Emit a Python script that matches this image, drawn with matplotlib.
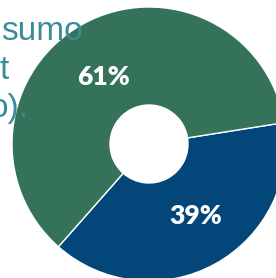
import matplotlib.pyplot as plt

# slice values (blue first, going clockwise from the right)
labels = ['39%', '61%']
values = [39, 61]
colors = ['#02467A', '#35725A']

# background text fragments (cut off on the left in the original)
text_lines = ['sumo', 't', 'o).']
text_x = [1, -1, -10]
text_y = [40, 79, 117]

W, H = 276, 278
fig = plt.figure(figsize=(W / 100, H / 100), dpi=100)
ax = fig.add_axes([0, 0, 1, 1])

R = 137
hole = 39
wedges, _, pcts = ax.pie(values, colors=colors, startangle=9, counterclock=False,
                         center=(149, H - 144), radius=R,
                         autopct=lambda p: '%d%%' % round(p), pctdistance=0.61,
                         wedgeprops=dict(width=R - hole, edgecolor='white', linewidth=1.0),
                         frame=True)
ax.set_xlim(0, W)
ax.set_ylim(0, H)
ax.set_aspect('equal')
ax.axis('off')

# labels sit a bit off the wedge middles in the original
label_pos = [(196, H - 216), (103, H - 77)]
for t, pos in zip(pcts, label_pos):
    t.set_position(pos)
    t.set_color('white')
    t.set_fontsize(19)
    t.set_fontweight('heavy')
    t.set_family('Lato')

for s, x, y in zip(text_lines, text_x, text_y):
    fig.text(x / W, 1 - y / H, s, color='#3B8C99', fontsize=24,
             family='Liberation Sans', ha='left', va='baseline')

fig.savefig('out.png', dpi=100)
